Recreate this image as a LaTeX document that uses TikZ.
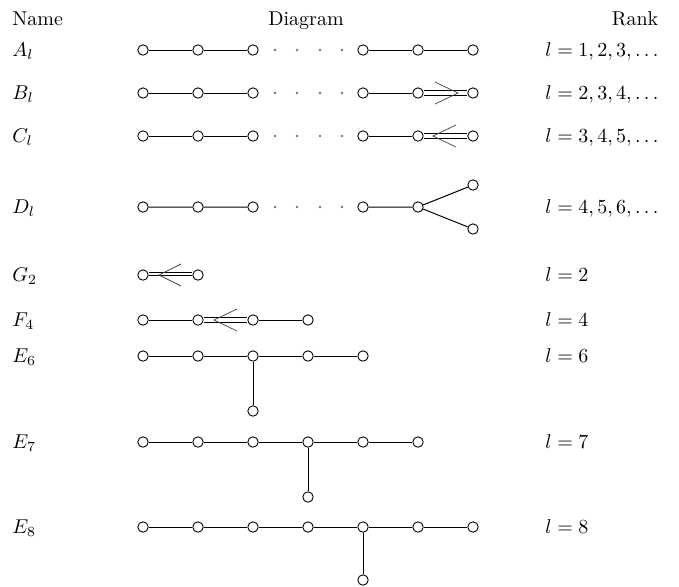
\documentclass[tikz,border=0pt]{standalone}
\usetikzlibrary{calc}
\begin{document}
\begin{tikzpicture}[x=0.5pt,y=-0.5pt,
  dnode/.style={circle,draw,fill=white,inner sep=0pt,minimum size=5.2pt,line width=0.45pt},
  bond/.style={line width=0.5pt},
  dbl/.style={double,double distance=2pt,line width=0.45pt},
  trp/.style={double,double distance=2.5pt,line width=0.45pt},
  arm/.style={line width=0.35pt,draw=black!75},
  lbl/.style={anchor=base west,inner sep=0pt},
  hdr/.style={anchor=base,inner sep=0pt},
  dotsty/.style={circle,fill=black!55,draw=none,inner sep=0pt,minimum size=1.3pt}]
\useasboundingbox (0,0) rectangle (679,586);

% header
\node[lbl] (hname) at (12,25) {Name};
\node[hdr] (hdiag) at (306,25) {Diagram};
\node[hdr] (hrank) at (635,25) {Rank};

% A_l
\node[lbl] (lA) at (12,56.5) {$A_l$};
\foreach \i/\x in {1/143,2/198,3/253,4/363,5/418,6/473} \node[dnode] (a\i) at (\x,50) {};
\foreach \i/\x in {1/275,2/297,3/320,4/342} \node[dotsty] (ad\i) at (\x,50) {};
\draw[bond] (a1)--(a2) (a2)--(a3) (a4)--(a5) (a5)--(a6);
\node[lbl] (rA) at (545,56.5) {$l=1,2,3,\ldots$};

% B_l
\node[lbl] (lB) at (12,99.5) {$B_l$};
\foreach \i/\x in {1/143,2/198,3/253,4/363,5/418,6/473} \node[dnode] (b\i) at (\x,93) {};
\foreach \i/\x in {1/275,2/297,3/320,4/342} \node[dotsty] (bd\i) at (\x,93) {};
\draw[bond] (b1)--(b2) (b2)--(b3) (b4)--(b5);
\draw[dbl] (b5)--(b6);
\draw[arm] ($(b6)+(-38,-11)$) -- ($(b6)+(-15,0)$) -- ($(b6)+(-38,11)$);
\node[lbl] (rB) at (545,99.5) {$l=2,3,4,\ldots$};

% C_l
\node[lbl] (lC) at (12,142.5) {$C_l$};
\foreach \i/\x in {1/143,2/198,3/253,4/363,5/418,6/473} \node[dnode] (c\i) at (\x,136) {};
\foreach \i/\x in {1/275,2/297,3/320,4/342} \node[dotsty] (cd\i) at (\x,136) {};
\draw[bond] (c1)--(c2) (c2)--(c3) (c4)--(c5);
\draw[dbl] (c5)--(c6);
\draw[arm] ($(c5)+(38,-11)$) -- ($(c5)+(15,0)$) -- ($(c5)+(38,11)$);
\node[lbl] (rC) at (545,142.5) {$l=3,4,5,\ldots$};

% D_l
\node[lbl] (lD) at (12,213.5) {$D_l$};
\foreach \i/\x in {1/143,2/198,3/253,4/363,5/418} \node[dnode] (d\i) at (\x,207) {};
\node[dnode] (d6) at (473,185) {};
\node[dnode] (d7) at (473,229) {};
\foreach \i/\x in {1/275,2/297,3/320,4/342} \node[dotsty] (dd\i) at (\x,207) {};
\draw[bond] (d1)--(d2) (d2)--(d3) (d4)--(d5) (d5)--(d6) (d5)--(d7);
\node[lbl] (rD) at (545,213.5) {$l=4,5,6,\ldots$};

% G_2
\node[lbl] (lG) at (12,281.5) {$G_2$};
\node[dnode] (g1) at (143,275) {};
\node[dnode] (g2) at (198,275) {};
\draw[trp] (g1)--(g2);
\draw[line width=0.45pt] (g1)--(g2);
\draw[arm] ($(g1)+(38,-11)$) -- ($(g1)+(16,0)$) -- ($(g1)+(38,11)$);
\node[lbl] (rG) at (545,281.5) {$l=2$};

% F_4
\node[lbl] (lF) at (12,326.5) {$F_4$};
\foreach \i/\x in {1/143,2/198,3/253,4/308} \node[dnode] (f\i) at (\x,320) {};
\draw[bond] (f1)--(f2) (f3)--(f4);
\draw[dbl] (f2)--(f3);
\draw[arm] ($(f2)+(39,-11)$) -- ($(f2)+(16,0)$) -- ($(f2)+(39,11)$);
\node[lbl] (rF) at (545,326.5) {$l=4$};

% E_6
\node[lbl] (lE6) at (12,362.5) {$E_6$};
\foreach \i/\x in {1/143,2/198,3/253,4/308,5/363} \node[dnode] (s\i) at (\x,356) {};
\node[dnode] (s6) at (253,411) {};
\draw[bond] (s1)--(s2) (s2)--(s3) (s3)--(s4) (s4)--(s5) (s3)--(s6);
\node[lbl] (rE6) at (545,362.5) {$l=6$};

% E_7
\node[lbl] (lE7) at (12,448.5) {$E_7$};
\foreach \i/\x in {1/143,2/198,3/253,4/308,5/363,6/418} \node[dnode] (t\i) at (\x,442) {};
\node[dnode] (t7) at (308,497) {};
\draw[bond] (t1)--(t2) (t2)--(t3) (t3)--(t4) (t4)--(t5) (t5)--(t6) (t4)--(t7);
\node[lbl] (rE7) at (545,448.5) {$l=7$};

% E_8
\node[lbl] (lE8) at (12,533.5) {$E_8$};
\foreach \i/\x in {1/143,2/198,3/253,4/308,5/363,6/418,7/473} \node[dnode] (u\i) at (\x,527) {};
\node[dnode] (u8) at (363,580) {};
\draw[bond] (u1)--(u2) (u2)--(u3) (u3)--(u4) (u4)--(u5) (u5)--(u6) (u6)--(u7) (u5)--(u8);
\node[lbl] (rE8) at (545,533.5) {$l=8$};
\end{tikzpicture}
\end{document}
